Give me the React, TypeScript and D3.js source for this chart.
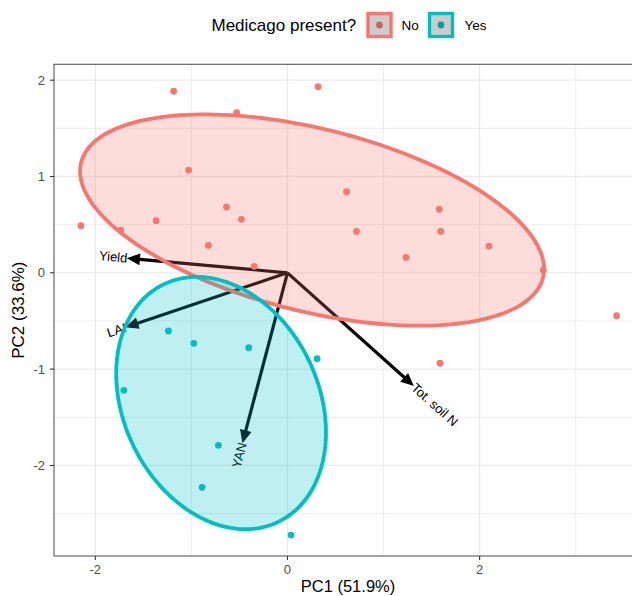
import React from 'react'
import * as d3 from 'd3'

// PCA scores
const noPC1 = [-1.185, 0.318, -0.529, -1.029, 0.615, -0.635, -0.479, -1.367, -2.150, -1.736, 1.580, 0.718, 1.595, -0.823, -0.347, 2.097, 1.234, 2.663, 3.426, 1.588]
const noPC2 = [1.885, 1.932, 1.663, 1.067, 0.842, 0.683, 0.555, 0.541, 0.489, 0.444, 0.659, 0.430, 0.430, 0.285, 0.068, 0.278, 0.160, 0.029, -0.445, -0.939]
const yesPC1 = [-1.239, -0.975, -0.403, 0.308, -1.703, -0.719, -0.889, 0.037]
const yesPC2 = [-0.604, -0.732, -0.778, -0.892, -1.220, -1.791, -2.227, -2.723]

// loadings (arrows)
const loadingNames = ['Yield', 'LAI', 'Tot. soil N', 'YAN']
const loadingPC1 = [-1.656, -1.672, 1.304, -0.465]
const loadingPC2 = [0.151, -0.560, -1.165, -1.754]

// groups and their ellipses (centre, semi axes, rotation in degrees)
const groups = ['No', 'Yes']
const groupColors = ['#F8766D', '#00BFC4']
const ellipseCX = [0.256, -0.691]
const ellipseCY = [0.548, -1.352]
const ellipseA = [2.477, 1.37]
const ellipseB = [0.948, 1.015]
const ellipseAngle = [-13.95, -64.1]

const xTicks = [-2, 0, 2]
const xMinor = [-1, 1, 3]
const yTicks = [-2, -1, 0, 1, 2]
const yMinor = [-2.5, -1.5, -0.5, 0.5, 1.5]

const width = 632
const height = 596
const panel = { left: 54, right: 642, top: 64.3, bottom: 556 }
const font = 'Liberation Sans, Arial, Helvetica, sans-serif'

const App = () => {
  const x = d3.scaleLinear().domain([-2.43, 3.69]).range([panel.left, panel.right])
  const y = d3.scaleLinear().domain([-2.94, 2.165]).range([panel.bottom, panel.top])

  const line = d3.line<[number, number]>().x(d => x(d[0])).y(d => y(d[1])).curve(d3.curveLinearClosed)

  const ellipsePath = (i: number) => {
    const t = (ellipseAngle[i] * Math.PI) / 180
    const pts: [number, number][] = d3.range(0, 360, 2).map(deg => {
      const p = (deg * Math.PI) / 180
      const ex = ellipseA[i] * Math.cos(p)
      const ey = ellipseB[i] * Math.sin(p)
      return [ellipseCX[i] + ex * Math.cos(t) - ey * Math.sin(t), ellipseCY[i] + ex * Math.sin(t) + ey * Math.cos(t)]
    })
    return line(pts)
  }

  const points = [
    { xs: noPC1, ys: noPC2, color: groupColors[0] },
    { xs: yesPC1, ys: yesPC2, color: groupColors[1] },
  ]

  const x0 = x(0)
  const y0 = y(0)
  const headLen = 11
  const headHalf = 5

  return (
    <svg width={width} height={height} style={{ position: 'absolute', left: 0, top: 0 }} fontFamily={font}>
      <defs>
        <clipPath id="panel-clip">
          <rect x={panel.left} y={panel.top} width={panel.right - panel.left} height={panel.bottom - panel.top} />
        </clipPath>
      </defs>
      <rect x={0} y={0} width={width} height={height} fill="white" />

      {/* grid */}
      <g stroke="#EBEBEB">
        {xMinor.map(d => <line key={'xm' + d} x1={x(d)} x2={x(d)} y1={panel.top} y2={panel.bottom} strokeWidth={0.9} />)}
        {yMinor.map(d => <line key={'ym' + d} y1={y(d)} y2={y(d)} x1={panel.left} x2={panel.right} strokeWidth={0.9} />)}
        {xTicks.map(d => <line key={'xM' + d} x1={x(d)} x2={x(d)} y1={panel.top} y2={panel.bottom} strokeWidth={1.3} />)}
        {yTicks.map(d => <line key={'yM' + d} y1={y(d)} y2={y(d)} x1={panel.left} x2={panel.right} strokeWidth={1.3} />)}
      </g>

      <g clipPath="url(#panel-clip)">
        {/* loadings */}
        {loadingNames.map((name, i) => {
          const tx = x(loadingPC1[i])
          const ty = y(loadingPC2[i])
          const dx = tx - x0
          const dy = ty - y0
          const len = Math.hypot(dx, dy)
          const ux = dx / len
          const uy = dy / len
          const bx = tx - ux * headLen
          const by = ty - uy * headLen
          const head = [
            [tx, ty],
            [bx - uy * headHalf, by + ux * headHalf],
            [bx + uy * headHalf, by - ux * headHalf],
          ].map(p => p.join(',')).join(' ')
          let angle = (Math.atan2(dy, dx) * 180) / Math.PI
          let anchor = 'start'
          if (dx < 0) {
            angle += 180
            anchor = 'end'
          }
          const lx = tx + ux * 1
          const ly = ty + uy * 1
          return (
            <g key={name}>
              <line x1={x0} y1={y0} x2={bx + ux * 2} y2={by + uy * 2} stroke="black" strokeWidth={3.2} />
              <polygon points={head} fill="black" stroke="black" strokeWidth={1.2} strokeLinejoin="miter" />
              <text
                x={lx}
                y={ly}
                transform={`rotate(${angle},${lx},${ly})`}
                textAnchor={anchor}
                dominantBaseline="central"
                fontSize={13}
                fill="black"
              >
                {name}
              </text>
            </g>
          )
        })}

        {/* scores */}
        {points.map((g, gi) =>
          g.xs.map((v, i) => <circle key={gi + '-' + i} cx={x(v)} cy={y(g.ys[i])} r={3.4} fill={g.color} />)
        )}

        {/* ellipses */}
        {groups.map((g, i) => (
          <path key={g} d={ellipsePath(i) || ''} fill={groupColors[i]} fillOpacity={0.25} stroke={groupColors[i]} strokeWidth={3.8} />
        ))}
      </g>

      {/* panel border */}
      <rect x={panel.left} y={panel.top} width={panel.right - panel.left} height={panel.bottom - panel.top} fill="none" stroke="#5a5a5a" strokeWidth={1.1} />

      {/* x axis */}
      {xTicks.map(d => (
        <g key={'xt' + d}>
          <line x1={x(d)} x2={x(d)} y1={panel.bottom} y2={panel.bottom + 4} stroke="#333" strokeWidth={1.1} />
          <text x={x(d)} y={574} textAnchor="middle" fontSize={13} fill="#4D4D4D">{d}</text>
        </g>
      ))}
      {/* y axis */}
      {yTicks.map(d => (
        <g key={'yt' + d}>
          <line x1={panel.left - 4} x2={panel.left} y1={y(d)} y2={y(d)} stroke="#333" strokeWidth={1.1} />
          <text x={45} y={y(d)} textAnchor="end" dominantBaseline="central" fontSize={13} fill="#4D4D4D">{d}</text>
        </g>
      ))}

      <text x={(panel.left + panel.right) / 2} y={591.5} textAnchor="middle" fontSize={16.5} fill="black">PC1 (51.9%)</text>
      <text transform={`translate(24,${(panel.top + panel.bottom) / 2}) rotate(-90)`} textAnchor="middle" fontSize={17} fill="black">PC2 (33.6%)</text>

      {/* legend */}
      <g>
        <text x={211.5} y={25} dominantBaseline="central" fontSize={17} fill="black">Medicago present?</text>
        {groups.map((g, i) => {
          const kx = i === 0 ? 368 : 429.5
          const lx = i === 0 ? 401.5 : 464.5
          return (
            <g key={'leg' + g}>
              <circle cx={kx + 11.5} cy={25} r={3.4} fill={groupColors[i]} />
              <rect x={kx} y={13.5} width={23} height={23} fill="#333333" fillOpacity={0.25} stroke={groupColors[i]} strokeWidth={3.4} />
              <text x={lx} y={25} dominantBaseline="central" fontSize={13.5} fill="black">{g}</text>
            </g>
          )
        })}
      </g>
    </svg>
  )
}

export default App
